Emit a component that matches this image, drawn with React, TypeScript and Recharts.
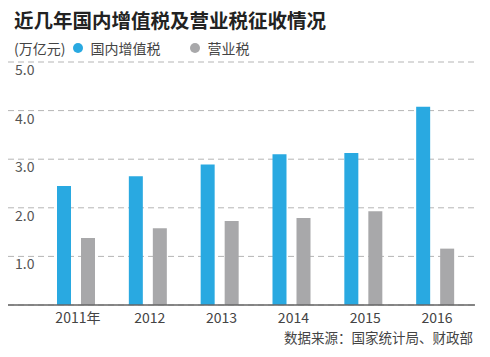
import React from 'react';
import { BarChart, Bar, XAxis, YAxis, CartesianGrid } from 'recharts';

const years = ['2011年', '2012', '2013', '2014', '2015', '2016'];
const vat = [2.45, 2.65, 2.89, 3.1, 3.13, 4.08];
const businessTax = [1.38, 1.58, 1.73, 1.79, 1.93, 1.16];
const yTicks = [0, 1, 2, 3, 4, 5];

const title = '近几年国内增值税及营业税征收情况';
const unitLabel = '(万亿元)';
const seriesNames = ['国内增值税', '营业税'];
const source = '数据来源：国家统计局、财政部';

const BLUE = '#29a9e1';
const GRAY = '#a8a8aa';
const FONT = '"Noto Sans CJK SC", "Liberation Sans", sans-serif';

const data = years.map((y, i) => ({ year: y, vat: vat[i], biz: businessTax[i] }));

const XTick = (props: any) => {
  const { x, y, payload } = props;
  return (
    <text x={x + 2} y={y + 10} fill="#444" fontSize={14} fontFamily={FONT} textAnchor="middle">
      {payload.value}
    </text>
  );
};

const YTick = (props: any) => {
  const { y, payload } = props;
  if (!payload || payload.value === 0) return <g />;
  return (
    <text x={15} y={y + 13} fill="#555" fontSize={14} fontFamily={FONT} textAnchor="start">
      {Number(payload.value).toFixed(1)}
    </text>
  );
};

export default function App() {
  return (
    <div style={{ position: 'absolute', left: 0, top: 0, width: 490, height: 357, background: '#fff', fontFamily: FONT }}>
      <div style={{ position: 'absolute', left: 14, top: 7, fontSize: 19.5, fontWeight: 700, color: '#222', whiteSpace: 'nowrap', lineHeight: '26px' }}>
        {title}
      </div>
      <div style={{ position: 'absolute', left: 14, top: 38, fontSize: 14, color: '#444', whiteSpace: 'nowrap', lineHeight: '20px', display: 'flex', alignItems: 'center' }}>
        <span>{unitLabel}</span>
        <span style={{ display: 'inline-block', width: 10, height: 10, borderRadius: 5, background: BLUE, marginLeft: 8, marginRight: 7 }} />
        <span>{seriesNames[0]}</span>
        <span style={{ display: 'inline-block', width: 10, height: 10, borderRadius: 5, background: GRAY, marginLeft: 30, marginRight: 7 }} />
        <span>{seriesNames[1]}</span>
      </div>
      <div style={{ position: 'absolute', right: 17, top: 327, fontSize: 13.5, color: '#444', whiteSpace: 'nowrap', lineHeight: '20px' }}>
        {source}
      </div>
      <div style={{ position: 'absolute', left: 0, top: 0 }}>
        <BarChart
          width={490}
          height={357}
          data={data}
          margin={{ top: 62, right: 15, bottom: 22, left: 7 }}
          barSize={14}
          barGap={10}
        >
          <CartesianGrid vertical={false} stroke="#b5b5b5" strokeDasharray="6 4" />
          <XAxis
            dataKey="year"
            padding={{ left: 32, right: 4 }}
            axisLine={{ stroke: '#666', strokeWidth: 1.5 }}
            tickLine={false}
            tick={<XTick />}
            interval={0}
          />
          <XAxis
            xAxisId="top"
            orientation="top"
            dataKey="year"
            height={0}
            padding={{ left: 32, right: 4 }}
            axisLine={{ stroke: '#888', strokeWidth: 1 }}
            tickLine={false}
            tick={false}
          />
          <YAxis
            domain={[0, 5]}
            ticks={yTicks}
            width={1}
            axisLine={false}
            tickLine={false}
            tick={<YTick />}
            interval={0}
          />
          <Bar dataKey="vat" fill={BLUE} isAnimationActive={false} />
          <Bar dataKey="biz" fill={GRAY} isAnimationActive={false} />
        </BarChart>
      </div>
    </div>
  );
}
